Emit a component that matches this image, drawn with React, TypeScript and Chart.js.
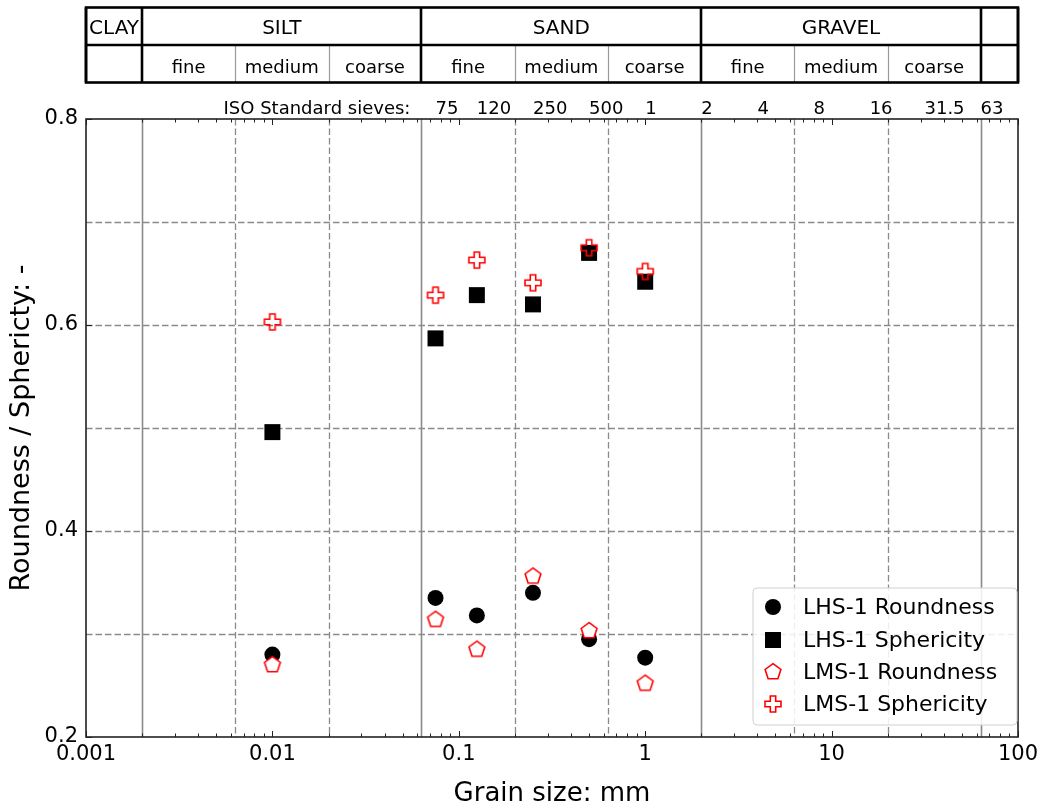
import React, { useEffect, useRef } from 'react';
import { Chart, registerables } from 'chart.js';

Chart.register(...registerables);

// ---------- data ----------
const grainSizes = [0.01, 0.075, 0.125, 0.25, 0.5, 1];
const lhsRoundness = [0.28, 0.335, 0.318, 0.34, 0.295, 0.277];
const lhsSphericity = [0.496, 0.587, 0.629, 0.62, 0.67, 0.642];
const lmsRoundness = [0.27, 0.314, 0.285, 0.356, 0.303, 0.252];
const lmsSphericity = [0.603, 0.629, 0.663, 0.641, 0.675, 0.652];

const seriesLabels = ['LHS-1 Roundness', 'LHS-1 Sphericity', 'LMS-1 Roundness', 'LMS-1 Sphericity'];

const xTickValues = [0.001, 0.01, 0.1, 1, 10, 100];
const xTickLabels = ['0.001', '0.01', '0.1', '1', '10', '100'];
const yTickValues = [0.2, 0.4, 0.6, 0.8];
const yTickLabels = ['0.2', '0.4', '0.6', '0.8'];
const yGridValues = [0.3, 0.4, 0.5, 0.6, 0.7];

const mainBoundaries = [0.002, 0.063, 2, 63];
const subBoundaries = [0.0063, 0.02, 0.2, 0.63, 6.3, 20];

const mainClassEdges = [0.001, 0.002, 0.063, 2, 63, 100];
const mainClassLabels = ['CLAY', 'SILT', 'SAND', 'GRAVEL', ''];
const subClassEdges = [0.001, 0.002, 0.0063, 0.02, 0.063, 0.2, 0.63, 2, 6.3, 20, 63, 100];
const subClassLabels = ['', 'fine', 'medium', 'coarse', 'fine', 'medium', 'coarse', 'fine', 'medium', 'coarse', ''];

const sieveSizes = [0.075, 0.125, 0.25, 0.5, 1, 2, 4, 8, 16, 31.5, 63];
const sieveLabels = ['75', '120', '250', '500', '1', '2', '4', '8', '16', '31.5', '63'];
const sieveTitle = 'ISO Standard sieves:';

const FONT = 'DejaVu Sans';
const GRID_GRAY = '#8a8a8a';
const RED = '#ff0000';

// ---------- markers ----------
function makePentagon(): HTMLCanvasElement {
  const c = document.createElement('canvas');
  c.width = 24;
  c.height = 24;
  const g = c.getContext('2d')!;
  const R = 8.3;
  g.beginPath();
  for (let i = 0; i < 5; i++) {
    const a = -Math.PI / 2 + (i * 2 * Math.PI) / 5;
    const px = 12 + R * Math.cos(a);
    const py = 12 + R * Math.sin(a);
    if (i === 0) g.moveTo(px, py);
    else g.lineTo(px, py);
  }
  g.closePath();
  g.fillStyle = '#ffffff';
  g.fill();
  g.strokeStyle = RED;
  g.lineWidth = 1.6;
  g.stroke();
  return c;
}

function makePlus(): HTMLCanvasElement {
  const c = document.createElement('canvas');
  c.width = 24;
  c.height = 24;
  const g = c.getContext('2d')!;
  const s = 8;
  const w = 2.7;
  const pts: [number, number][] = [
    [-w, -s], [w, -s], [w, -w], [s, -w], [s, w], [w, w],
    [w, s], [-w, s], [-w, w], [-s, w], [-s, -w], [-w, -w],
  ];
  g.beginPath();
  pts.forEach(([px, py], i) => {
    if (i === 0) g.moveTo(12 + px, 12 + py);
    else g.lineTo(12 + px, 12 + py);
  });
  g.closePath();
  g.strokeStyle = RED;
  g.lineWidth = 1.6;
  g.stroke();
  return c;
}

function toPoints(ys: number[]) {
  return grainSizes.map((x, i) => ({ x, y: ys[i] }));
}

export default function App() {
  const canvasRef = useRef<HTMLCanvasElement | null>(null);

  useEffect(() => {
    if (!canvasRef.current) return;
    const pentagon = makePentagon();
    const plus = makePlus();

    const decorPlugin = {
      id: 'decor',
      beforeDatasetsDraw(chart: any) {
        const { ctx, chartArea: ca, scales } = chart;
        const xs = scales.x;
        const ys = scales.y;
        ctx.save();
        ctx.strokeStyle = GRID_GRAY;
        ctx.lineWidth = 1.3;
        ctx.setLineDash([6.5, 3]);
        yGridValues.forEach((v) => {
          const y = Math.round(ys.getPixelForValue(v)) + 0.5;
          ctx.beginPath();
          ctx.moveTo(ca.left, y);
          ctx.lineTo(ca.right, y);
          ctx.stroke();
        });
        subBoundaries.forEach((v) => {
          const x = Math.round(xs.getPixelForValue(v)) + 0.5;
          ctx.beginPath();
          ctx.moveTo(x, ca.top);
          ctx.lineTo(x, ca.bottom);
          ctx.stroke();
        });
        ctx.setLineDash([]);
        ctx.lineWidth = 1.6;
        mainBoundaries.forEach((v) => {
          const x = Math.round(xs.getPixelForValue(v)) + 0.5;
          ctx.beginPath();
          ctx.moveTo(x, ca.top);
          ctx.lineTo(x, ca.bottom);
          ctx.stroke();
        });
        ctx.restore();
      },
      afterDatasetsDraw(chart: any) {
        const { ctx, chartArea: ca, scales } = chart;
        const xs = scales.x;
        const ys = scales.y;
        ctx.save();
        ctx.strokeStyle = '#222';
        ctx.lineWidth = 1;
        for (let e = -3; e <= 1; e++) {
          for (let m = 1; m <= 10; m++) {
            const v = m * Math.pow(10, e);
            if (v < 0.001 || v > 100) continue;
            const major = m === 1 || m === 10;
            const len = major ? 6 : 3.5;
            const x = Math.round(xs.getPixelForValue(v)) + 0.5;
            ctx.beginPath();
            ctx.moveTo(x, ca.bottom);
            ctx.lineTo(x, ca.bottom - len);
            ctx.moveTo(x, ca.top);
            ctx.lineTo(x, ca.top + len);
            ctx.stroke();
          }
        }
        yTickValues.forEach((v) => {
          const y = Math.round(ys.getPixelForValue(v)) + 0.5;
          ctx.beginPath();
          ctx.moveTo(ca.left, y);
          ctx.lineTo(ca.left + 6, y);
          ctx.stroke();
        });
        ctx.strokeStyle = '#222';
        ctx.lineWidth = 1.6;
        ctx.strokeRect(ca.left, ca.top, ca.right - ca.left, ca.bottom - ca.top);

        // legend
        const lw = 264;
        const lh = 137;
        const lx = ca.right - 1 - lw;
        const ly = ca.bottom - 12 - lh;
        ctx.beginPath();
        if ((ctx as any).roundRect) (ctx as any).roundRect(lx, ly, lw, lh, 4);
        else ctx.rect(lx, ly, lw, lh);
        ctx.fillStyle = 'rgba(255,255,255,0.85)';
        ctx.fill();
        ctx.strokeStyle = '#d0d0d0';
        ctx.lineWidth = 1;
        ctx.stroke();
        const mx = lx + 20;
        const tx = lx + 50;
        const rowY = [19, 52, 84, 116].map((d) => ly + d);
        ctx.fillStyle = '#000';
        ctx.beginPath();
        ctx.arc(mx, rowY[0], 8, 0, Math.PI * 2);
        ctx.fill();
        ctx.fillRect(mx - 8, rowY[1] - 8, 16, 16);
        ctx.drawImage(pentagon, mx - 12, rowY[2] - 12);
        ctx.drawImage(plus, mx - 12, rowY[3] - 12);
        ctx.font = `22px "${FONT}"`;
        ctx.fillStyle = '#000';
        ctx.textAlign = 'left';
        ctx.textBaseline = 'middle';
        seriesLabels.forEach((t, i) => ctx.fillText(t, tx, rowY[i] + 1));
        ctx.restore();
      },
      afterDraw(chart: any) {
        const { ctx, chartArea: ca, scales } = chart;
        const xs = scales.x;
        ctx.save();
        const top = 7.5;
        const mid = 45;
        const bot = 82.5;
        const px = (v: number) => xs.getPixelForValue(v);
        ctx.strokeStyle = '#9a9a9a';
        ctx.lineWidth = 1.2;
        subClassEdges.forEach((v) => {
          if (mainClassEdges.indexOf(v) >= 0) return;
          const x = Math.round(px(v)) + 0.5;
          ctx.beginPath();
          ctx.moveTo(x, mid);
          ctx.lineTo(x, bot);
          ctx.stroke();
        });
        ctx.strokeStyle = '#000';
        ctx.lineWidth = 2.6;
        ctx.strokeRect(ca.left, top, ca.right - ca.left, bot - top);
        ctx.beginPath();
        ctx.moveTo(ca.left, mid);
        ctx.lineTo(ca.right, mid);
        ctx.stroke();
        mainClassEdges.forEach((v) => {
          const x = Math.round(px(v));
          ctx.beginPath();
          ctx.moveTo(x, top);
          ctx.lineTo(x, bot);
          ctx.stroke();
        });
        ctx.fillStyle = '#000';
        ctx.textAlign = 'center';
        ctx.textBaseline = 'alphabetic';
        ctx.font = `20px "${FONT}"`;
        mainClassLabels.forEach((t, i) => {
          if (!t) return;
          const cx = (px(mainClassEdges[i]) + px(mainClassEdges[i + 1])) / 2;
          ctx.fillText(t, cx, 34);
        });
        ctx.font = `18px "${FONT}"`;
        subClassLabels.forEach((t, i) => {
          if (!t) return;
          const cx = (px(subClassEdges[i]) + px(subClassEdges[i + 1])) / 2;
          ctx.fillText(t, cx, 73);
        });
        ctx.font = `18px "${FONT}"`;
        ctx.textAlign = 'right';
        ctx.fillText(sieveTitle, px(0.063) - 11, 114);
        ctx.textAlign = 'left';
        sieveSizes.forEach((v, i) => {
          ctx.fillText(sieveLabels[i], px(v), 114);
        });
        ctx.restore();
      },
    };

    const chart = new Chart(canvasRef.current, {
      type: 'scatter',
      data: {
        datasets: [
          {
            label: seriesLabels[0],
            data: toPoints(lhsRoundness),
            pointStyle: 'circle',
            pointRadius: 8,
            pointHoverRadius: 8,
            backgroundColor: '#000',
            borderColor: '#000',
            borderWidth: 0,
            order: 2,
          },
          {
            label: seriesLabels[1],
            data: toPoints(lhsSphericity),
            pointStyle: 'rect',
            pointRadius: 11.3,
            pointHoverRadius: 11.3,
            backgroundColor: '#000',
            borderColor: '#000',
            borderWidth: 0,
            order: 2,
          },
          {
            label: seriesLabels[2],
            data: toPoints(lmsRoundness),
            pointStyle: pentagon as any,
            pointRadius: 9,
            pointHoverRadius: 9,
            backgroundColor: '#fff',
            borderColor: RED,
            order: 1,
          },
          {
            label: seriesLabels[3],
            data: toPoints(lmsSphericity),
            pointStyle: plus as any,
            pointRadius: 9,
            pointHoverRadius: 9,
            backgroundColor: 'rgba(0,0,0,0)',
            borderColor: RED,
            order: 1,
          },
        ],
      },
      options: {
        responsive: false,
        animation: false,
        events: [],
        layout: { padding: { top: 119, right: 26, left: 0, bottom: 0 } },
        plugins: {
          legend: { display: false },
          tooltip: { enabled: false },
        },
        scales: {
          x: {
            type: 'logarithmic',
            position: 'bottom',
            min: 0.001,
            max: 100,
            grid: { display: false, drawTicks: false },
            border: { display: false },
            afterBuildTicks: (s: any) => {
              s.ticks = xTickValues.map((v) => ({ value: v, major: true }));
            },
            afterFit: (s: any) => {
              s.height = 75;
              s.paddingLeft = 0;
              s.paddingRight = 0;
            },
            ticks: {
              autoSkip: false,
              maxRotation: 0,
              minRotation: 0,
              padding: 5,
              color: '#000',
              font: { family: FONT, size: 21 },
              callback: (_v: any, i: number) => xTickLabels[i],
            },
            title: {
              display: true,
              text: 'Grain size: mm',
              color: '#000',
              font: { family: FONT, size: 26 },
              padding: { top: 0, bottom: 2 },
            },
          },
          y: {
            type: 'linear',
            min: 0.2,
            max: 0.8,
            grid: { display: false, drawTicks: false },
            border: { display: false },
            afterBuildTicks: (s: any) => {
              s.ticks = yTickValues.map((v) => ({ value: v }));
            },
            afterFit: (s: any) => {
              s.width = 86;
              s.paddingTop = 0;
              s.paddingBottom = 0;
            },
            ticks: {
              padding: 8,
              color: '#000',
              font: { family: FONT, size: 21 },
              callback: (_v: any, i: number) => yTickLabels[i],
            },
            title: {
              display: true,
              text: 'Roundness / Sphericty: -',
              color: '#000',
              font: { family: FONT, size: 27 },
              padding: { top: 6, bottom: 0 },
            },
          },
        },
      } as any,
      plugins: [decorPlugin],
    });

    return () => {
      chart.destroy();
    };
  }, []);

  return (
    <div style={{ position: 'fixed', left: 0, top: 0, width: 1044, height: 812, background: '#fff' }}>
      <canvas ref={canvasRef} width={1044} height={812} style={{ width: 1044, height: 812, display: 'block' }} />
    </div>
  );
}
